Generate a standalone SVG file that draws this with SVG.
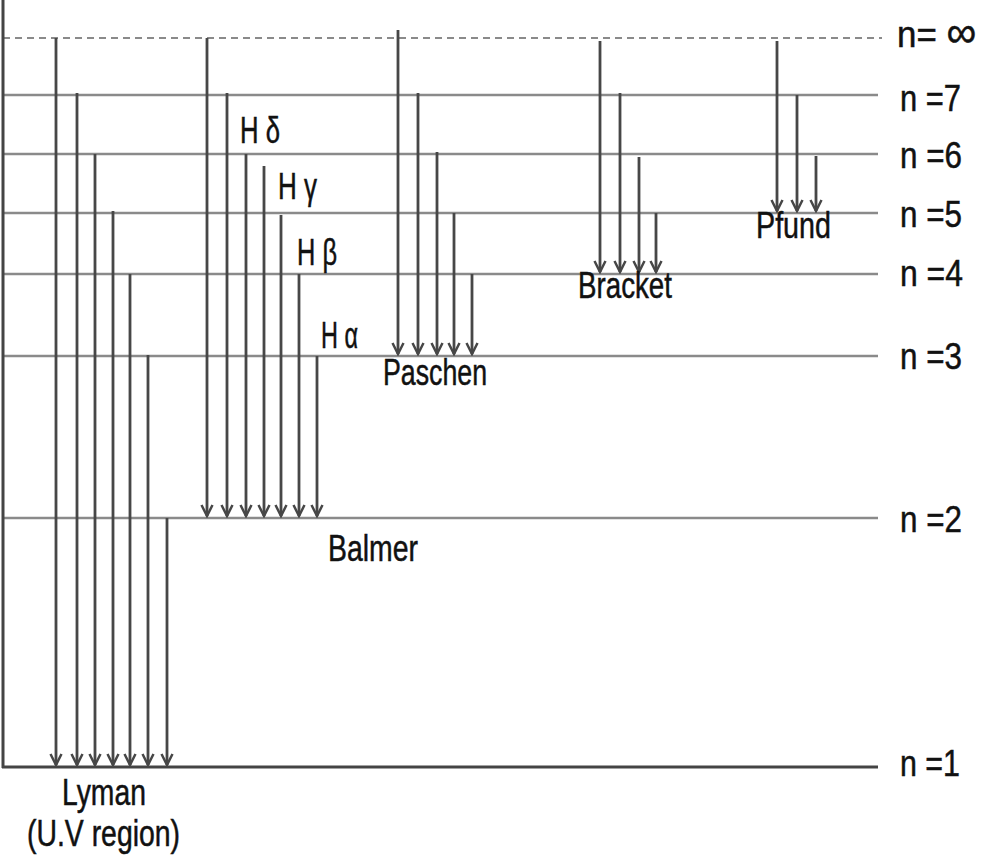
<svg xmlns="http://www.w3.org/2000/svg" width="985" height="865" viewBox="0 0 985 865">
<defs>
<marker id="ah" markerUnits="userSpaceOnUse" markerWidth="16" markerHeight="16" viewBox="-14 -8 16 16" refX="0" refY="0" orient="auto">
<path d="M-11,-5.5 L0,0 L-11,5.5" fill="none" stroke="#474747" stroke-width="2.5" stroke-linejoin="miter"/>
</marker>
<style>
.lvl{stroke:#8a8a8a;stroke-width:2.5;fill:none}
.dash{stroke:#8a8a8a;stroke-width:2;stroke-dasharray:7,5;fill:none}
.axis{stroke:#444;stroke-width:3;fill:none}
.ar{stroke:#474747;stroke-width:2.8;fill:none;marker-end:url(#ah)}
text{font-family:"Liberation Sans",Arial,sans-serif;font-size:37px;fill:#111;stroke:#111;stroke-width:0.5}
</style>
</defs>
<g id="levels">
<line class="dash" x1="3" y1="38" x2="882" y2="38"/>
<line class="lvl" x1="3" y1="95" x2="878" y2="95"/>
<line class="lvl" x1="3" y1="154" x2="878" y2="154"/>
<line class="lvl" x1="3" y1="213" x2="878" y2="213"/>
<line class="lvl" x1="3" y1="274" x2="878" y2="274"/>
<line class="lvl" x1="3" y1="356" x2="878" y2="356"/>
<line class="lvl" x1="3" y1="518" x2="878" y2="518"/>
<line class="axis" x1="2" y1="767" x2="878" y2="767"/>
<line class="axis" x1="3" y1="0" x2="3" y2="768"/>
</g>
<g id="connectors">
<line class="ar" x1="56" y1="38" x2="56" y2="765"/>
<line class="ar" x1="77" y1="93" x2="77" y2="765"/>
<line class="ar" x1="95" y1="154" x2="95" y2="765"/>
<line class="ar" x1="113" y1="211" x2="113" y2="765"/>
<line class="ar" x1="130" y1="274" x2="130" y2="765"/>
<line class="ar" x1="148" y1="355" x2="148" y2="765"/>
<line class="ar" x1="167" y1="518" x2="167" y2="765"/>
<line class="ar" x1="207" y1="38" x2="207" y2="516"/>
<line class="ar" x1="227" y1="93" x2="227" y2="516"/>
<line class="ar" x1="246" y1="154" x2="246" y2="516"/>
<line class="ar" x1="264" y1="166" x2="264" y2="516"/>
<line class="ar" x1="281" y1="215" x2="281" y2="516"/>
<line class="ar" x1="299" y1="274" x2="299" y2="516"/>
<line class="ar" x1="317" y1="356" x2="317" y2="516"/>
<line class="ar" x1="398" y1="30" x2="398" y2="354"/>
<line class="ar" x1="418" y1="93" x2="418" y2="354"/>
<line class="ar" x1="437" y1="152" x2="437" y2="354"/>
<line class="ar" x1="454" y1="213" x2="454" y2="354"/>
<line class="ar" x1="472" y1="274" x2="472" y2="354"/>
<line class="ar" x1="600" y1="41" x2="600" y2="272"/>
<line class="ar" x1="620" y1="93" x2="620" y2="272"/>
<line class="ar" x1="639" y1="157" x2="639" y2="272"/>
<line class="ar" x1="656" y1="213" x2="656" y2="272"/>
<line class="ar" x1="777" y1="41" x2="777" y2="211"/>
<line class="ar" x1="797" y1="95" x2="797" y2="211"/>
<line class="ar" x1="816" y1="156" x2="816" y2="211"/>
</g>
<g id="labels-levels">
<text x="897" y="47" textLength="79" lengthAdjust="spacingAndGlyphs">n= <tspan font-size="44">∞</tspan></text>
<text x="900" y="111" textLength="61" lengthAdjust="spacingAndGlyphs">n =7</text>
<text x="900" y="168" textLength="62" lengthAdjust="spacingAndGlyphs">n =6</text>
<text x="900" y="227" textLength="62" lengthAdjust="spacingAndGlyphs">n =5</text>
<text x="900" y="286" textLength="63" lengthAdjust="spacingAndGlyphs">n =4</text>
<text x="900" y="369" textLength="62" lengthAdjust="spacingAndGlyphs">n =3</text>
<text x="900" y="532" textLength="62" lengthAdjust="spacingAndGlyphs">n =2</text>
<text x="900" y="776" textLength="60" lengthAdjust="spacingAndGlyphs">n =1</text>
</g>
<g id="labels-series">
<text x="240" y="143" textLength="40" lengthAdjust="spacingAndGlyphs">H δ</text>
<text x="278" y="199" textLength="39" lengthAdjust="spacingAndGlyphs">H γ</text>
<text x="297" y="265" textLength="40" lengthAdjust="spacingAndGlyphs">H β</text>
<text x="321" y="348" textLength="37" lengthAdjust="spacingAndGlyphs">H α</text>
<text x="383" y="385" textLength="104" lengthAdjust="spacingAndGlyphs">Paschen</text>
<text x="328" y="561" textLength="90" lengthAdjust="spacingAndGlyphs">Balmer</text>
<text x="578" y="298" textLength="94" lengthAdjust="spacingAndGlyphs">Bracket</text>
<text x="756" y="238" textLength="75" lengthAdjust="spacingAndGlyphs">Pfund</text>
<text x="62" y="805" textLength="84" lengthAdjust="spacingAndGlyphs">Lyman</text>
<text x="27" y="846" textLength="153" lengthAdjust="spacingAndGlyphs">(U.V region)</text>
</g>
</svg>
